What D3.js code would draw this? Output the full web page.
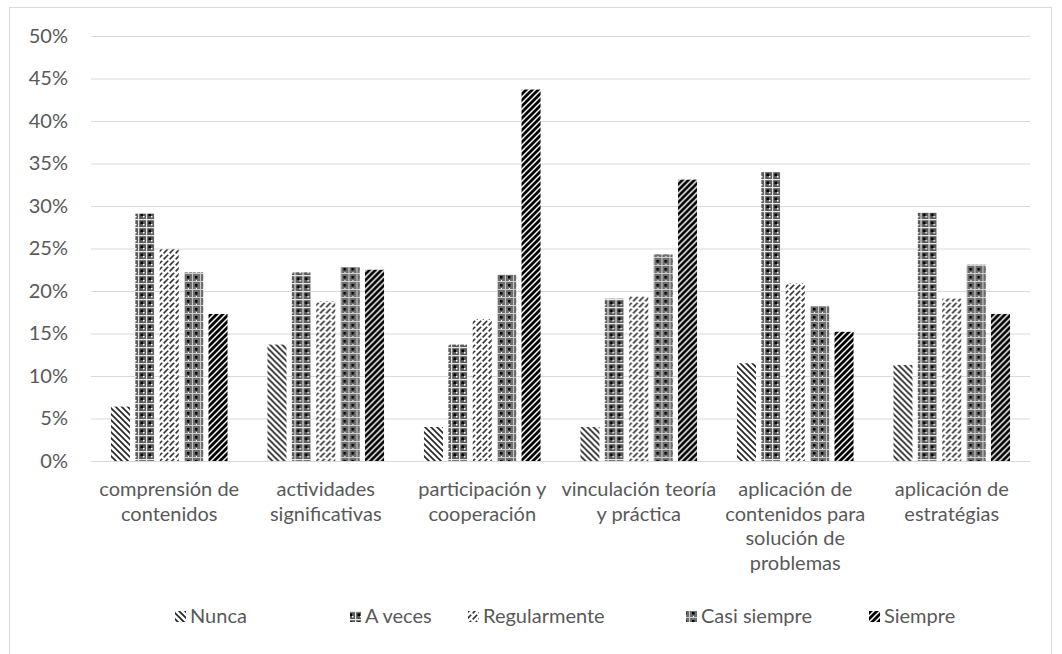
<!DOCTYPE html>
<html>
<head>
<meta charset="utf-8">
<script src="https://cdn.jsdelivr.net/npm/d3@7"></script>
<style>
  html, body { margin: 0; padding: 0; background: #fff; }
  svg { display: block; }
  text { font-family: Lato, "Open Sans", sans-serif; fill: #595959; }
</style>
</head>
<body>
<svg id="chart" width="1062" height="654"></svg>
<script>
// Categories (each label split into its display lines)
const categories = [
  "comprensión de contenidos",
  "actividades significativas",
  "participación y cooperación",
  "vinculación teoría y práctica",
  "aplicación de contenidos para solución de problemas",
  "aplicación de estratégias"
];
const categoryLines = [
  ["comprensión de", "contenidos"],
  ["actividades", "significativas"],
  ["participación y", "cooperación"],
  ["vinculación teoría", "y práctica"],
  ["aplicación de", "contenidos para", "solución de", "problemas"],
  ["aplicación de", "estratégias"]
];
const seriesNames = ["Nunca", "A veces", "Regularmente", "Casi siempre", "Siempre"];

// Percent values per series, one entry per category
const nunca        = [6.4, 13.7, 4.0, 4.0, 11.5, 11.3];
const aVeces       = [29.1, 22.2, 13.7, 19.1, 34.0, 29.2];
const regularmente = [24.9, 18.8, 16.7, 19.4, 20.9, 19.1];
const casiSiempre  = [22.2, 22.8, 21.9, 24.3, 18.2, 23.1];
const siempre      = [17.3, 22.5, 43.7, 33.1, 15.2, 17.3];
const seriesValues = [nunca, aVeces, regularmente, casiSiempre, siempre];

const yTicks = [0, 5, 10, 15, 20, 25, 30, 35, 40, 45, 50];

const FONT = "Lato, 'Open Sans', sans-serif";
const FS = "20px";

const svg = d3.select("#chart");

// Outer chart frame
svg.append("rect")
  .attr("x", 9.5).attr("y", 7.5)
  .attr("width", 1042).attr("height", 660)
  .attr("fill", "none").attr("stroke", "#d9d9d9").attr("stroke-width", 1);

// Fill patterns
const defs = svg.append("defs");

function pat(id, size) {
  return defs.append("pattern")
    .attr("id", id).attr("patternUnits", "userSpaceOnUse")
    .attr("width", size).attr("height", size);
}

// Nunca: thin downward diagonals
{
  const p = pat("p0", 6);
  p.append("rect").attr("width", 6).attr("height", 6).attr("fill", "#fff");
  p.append("path").attr("d", "M-1,-1 L7,7 M-1,5 L1,7 M5,-1 L7,1")
    .attr("stroke", "#222").attr("stroke-width", 1.6);
}
// A veces: dark dotted grid
{
  const p = pat("p1", 8);
  p.append("rect").attr("width", 8).attr("height", 8).attr("fill", "#5a5a5a");
  p.append("rect").attr("x", 0).attr("y", 3).attr("width", 8).attr("height", 1.2).attr("fill", "#e8e8e8");
  p.append("rect").attr("x", 3).attr("y", 0).attr("width", 1.2).attr("height", 8).attr("fill", "#e8e8e8");
  p.append("rect").attr("x", 5.5).attr("y", 5.5).attr("width", 2.5).attr("height", 2.5).attr("fill", "#000");
  p.append("rect").attr("x", 0).attr("y", 0).attr("width", 1.5).attr("height", 1.5).attr("fill", "#fff");
}
// Regularmente: dashed upward diagonals
{
  const p = pat("p2", 6);
  p.append("rect").attr("width", 6).attr("height", 6).attr("fill", "#fff");
  p.append("path").attr("d", "M-1,7 L7,-1 M-1,1 L1,-1 M5,7 L7,5")
    .attr("stroke", "#333").attr("stroke-width", 1.6)
    .attr("stroke-dasharray", "6,2");
}
// Casi siempre: lighter dotted grid
{
  const p = pat("p3", 8);
  p.append("rect").attr("width", 8).attr("height", 8).attr("fill", "#6e6e6e");
  p.append("rect").attr("x", 0).attr("y", 1).attr("width", 8).attr("height", 1).attr("fill", "#cfcfcf");
  p.append("rect").attr("x", 1).attr("y", 0).attr("width", 1).attr("height", 8).attr("fill", "#cfcfcf");
  p.append("rect").attr("x", 4).attr("y", 4).attr("width", 2.5).attr("height", 2.5).attr("fill", "#000");
  p.append("rect").attr("x", 5).attr("y", 0).attr("width", 1).attr("height", 1).attr("fill", "#fff");
}
// Siempre: bold upward diagonals
{
  const p = pat("p4", 6);
  p.append("rect").attr("width", 6).attr("height", 6).attr("fill", "#fff");
  p.append("path").attr("d", "M-1,7 L7,-1 M-1,1 L1,-1 M5,7 L7,5")
    .attr("stroke", "#000").attr("stroke-width", 2.8);
}
const fills = ["url(#p0)", "url(#p1)", "url(#p2)", "url(#p3)", "url(#p4)"];

// Scales
const plotLeft = 91, plotRight = 1030, plotTop = 36, plotBottom = 461;
const y = d3.scaleLinear().domain([0, 50]).range([plotBottom, plotTop]);
const x0 = d3.scaleBand().domain(categories).range([plotLeft, plotRight])
  .paddingInner(0.255).paddingOuter(0.1275);
const x1 = d3.scaleBand().domain(seriesNames).range([0, x0.bandwidth()])
  .paddingInner(0.22).paddingOuter(0);

// Gridlines and y labels
const yAxis = d3.axisLeft(y).tickValues(yTicks)
  .tickSize(-(plotRight - plotLeft)).tickPadding(23)
  .tickFormat(d => d + "%");
const gy = svg.append("g").attr("transform", `translate(${plotLeft},0)`).call(yAxis);
gy.select(".domain").remove();
gy.selectAll(".tick line").attr("stroke", "#d9d9d9").attr("stroke-width", 1);
gy.selectAll(".tick text")
  .attr("fill", "#595959").style("font-size", FS)
  .style("font-family", FONT);

// Bars
const groups = svg.append("g").selectAll("g")
  .data(categories)
  .join("g")
  .attr("transform", d => `translate(${x0(d)},0)`);

groups.selectAll("rect")
  .data((d, ci) => seriesNames.map((s, si) => ({ s, si, v: seriesValues[si][ci] })))
  .join("rect")
  .attr("x", d => x1(d.s))
  .attr("width", x1.bandwidth())
  .attr("y", d => y(d.v))
  .attr("height", d => y(0) - y(d.v))
  .attr("fill", d => fills[d.si]);

// Baseline
svg.append("line")
  .attr("x1", plotLeft).attr("x2", plotRight)
  .attr("y1", y(0) + 0.5).attr("y2", y(0) + 0.5)
  .attr("stroke", "#d9d9d9").attr("stroke-width", 1);

// Category labels
const xl = svg.append("g");
categories.forEach((c, i) => {
  const cx = x0(c) + x0.bandwidth() / 2;
  const t = xl.append("text")
    .attr("x", cx)
    .attr("y", 496)
    .attr("text-anchor", "middle")
    .style("font-size", FS);
  categoryLines[i].forEach((line, li) => {
    t.append("tspan")
      .attr("x", cx)
      .attr("dy", li === 0 ? 0 : 24.5)
      .text(line);
  });
});

// Legend
const legendX = [175, 350, 468, 686, 869];
const lg = svg.append("g");
seriesNames.forEach((s, i) => {
  lg.append("rect")
    .attr("x", legendX[i]).attr("y", 611)
    .attr("width", 11).attr("height", 11)
    .attr("fill", fills[i]);
  lg.append("text")
    .attr("x", legendX[i] + 15).attr("y", 623)
    .style("font-size", FS)
    .text(s);
});
</script>
</body>
</html>
